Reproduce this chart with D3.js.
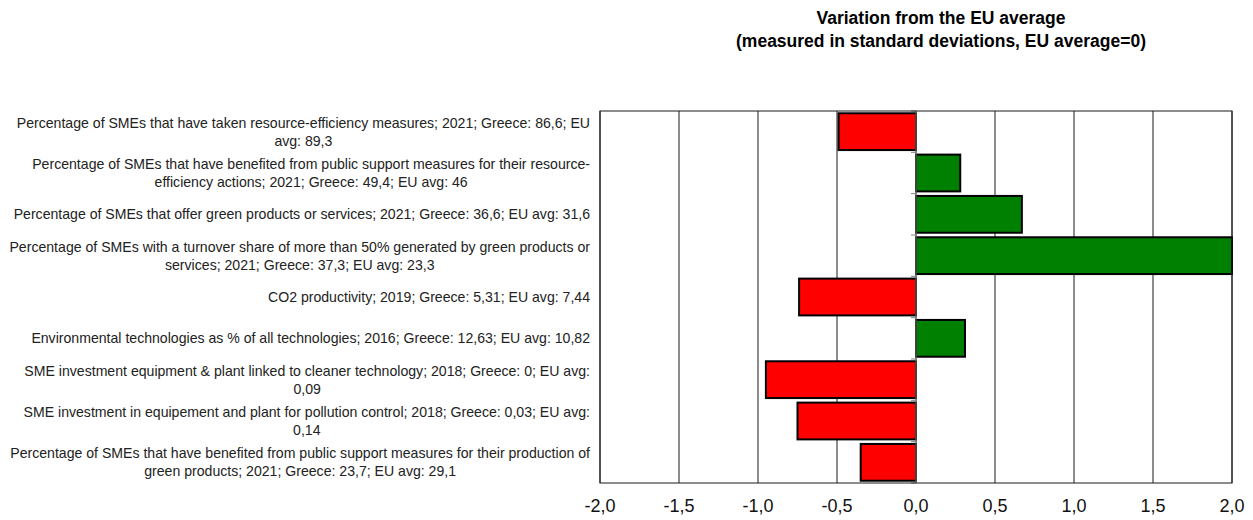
<!DOCTYPE html>
<html>
<head>
<meta charset="utf-8">
<script src="https://cdn.jsdelivr.net/npm/d3@7"></script>
<style>
  body { margin: 0; background: #fff; }
  svg { display: block; font-family: "Liberation Sans", Arial, sans-serif; }
</style>
</head>
<body>
<svg id="chart"></svg>
<script>
// data
const labels = [
  ['Percentage of SMEs that have taken resource-efficiency measures; 2021; Greece: 86,6; EU', 'avg: 89,3'],
  ['Percentage of SMEs that have benefited from public support measures for their resource-', 'efficiency actions; 2021; Greece: 49,4; EU avg: 46'],
  ['Percentage of SMEs that offer green products or services; 2021; Greece: 36,6; EU avg: 31,6'],
  ['Percentage of SMEs with a turnover share of more than 50% generated by green products or', 'services; 2021; Greece: 37,3; EU avg: 23,3'],
  ['CO2 productivity; 2019; Greece: 5,31; EU avg: 7,44'],
  ['Environmental technologies as % of all technologies; 2016; Greece: 12,63; EU avg: 10,82'],
  ['SME investment equipment & plant linked to cleaner technology; 2018; Greece: 0; EU avg:', '0,09'],
  ['SME investment in equipement and plant for pollution control; 2018; Greece: 0,03; EU avg:', '0,14'],
  ['Percentage of SMEs that have benefited from public support measures for their production of', 'green products; 2021; Greece: 23,7; EU avg: 29,1']
];
const values = [-0.49, 0.28, 0.67, 2.0, -0.74, 0.31, -0.95, -0.75, -0.35];
const xTicks = [-2, -1.5, -1, -0.5, 0, 0.5, 1, 1.5, 2];
const titleLines = ['Variation from the EU average', '(measured in standard deviations, EU average=0)'];

// dimensions
const W = 1253, H = 520;
const margin = {top: 111, bottom: 37, left: 600, right: 21};
const width = W - margin.left - margin.right;
const height = H - margin.top - margin.bottom;

const $svg = d3.select('#chart').attr('width', W).attr('height', H);

// scales
const scaleX = d3.scaleLinear().domain([-2, 2]).range([0, width]).clamp(true);
const scaleY = d3.scaleBand()
  .domain(d3.range(labels.length))
  .range([0, height])
  .paddingInner(0.11)
  .paddingOuter(0.055);
const step = scaleY.step();

const $vis = $svg.append('g')
  .attr('transform', 'translate(' + margin.left + ',' + margin.top + ')');

// title
$svg.append('g').selectAll('text')
  .data(titleLines)
  .enter().append('text')
  .attr('x', 941)
  .attr('y', (d, i) => 24 + i * 23)
  .attr('text-anchor', 'middle')
  .style('font-size', '17.5px')
  .style('font-weight', 'bold')
  .style('fill', '#000')
  .text(d => d);

// grid lines
$vis.selectAll('.grid')
  .data(xTicks)
  .enter().append('line')
  .attr('class', 'grid')
  .attr('x1', d => scaleX(d)).attr('x2', d => scaleX(d))
  .attr('y1', 0).attr('y2', height)
  .attr('stroke', '#1a1a1a')
  .attr('stroke-width', 1);

// bars
$vis.selectAll('.bar')
  .data(values)
  .enter().append('rect')
  .attr('class', 'bar')
  .attr('x', d => scaleX(Math.min(0, d)))
  .attr('width', d => Math.abs(scaleX(d) - scaleX(0)))
  .attr('y', (d, i) => scaleY(i))
  .attr('height', scaleY.bandwidth())
  .attr('fill', d => d < 0 ? '#ff0000' : '#008000')
  .attr('stroke', '#000')
  .attr('stroke-width', 2);

// zero axis with small ticks at category boundaries
$vis.append('line')
  .attr('x1', scaleX(0)).attr('x2', scaleX(0))
  .attr('y1', 0).attr('y2', height)
  .attr('stroke', '#808080');
$vis.selectAll('.ytick')
  .data(d3.range(labels.length + 1))
  .enter().append('line')
  .attr('class', 'ytick')
  .attr('x1', scaleX(0) - 5).attr('x2', scaleX(0))
  .attr('y1', d => d * step).attr('y2', d => d * step)
  .attr('stroke', '#808080');

// plot frame
$vis.append('rect')
  .attr('width', width).attr('height', height)
  .attr('fill', 'none')
  .attr('stroke', '#1a1a1a');

// x axis labels
$vis.selectAll('.xlabel')
  .data(xTicks)
  .enter().append('text')
  .attr('class', 'xlabel')
  .attr('x', d => scaleX(d))
  .attr('y', height + 29)
  .attr('text-anchor', 'middle')
  .style('font-size', '18px')
  .style('fill', '#111')
  .text(d => d3.format('.1f')(d).replace('.', ',').replace('−', '-'));

// category labels: lines centred inside a block that is right aligned to the plot
const lineH = 18;
const $labels = $svg.append('g').selectAll('.cat')
  .data(labels)
  .enter().append('g')
  .attr('class', 'cat');

$labels.each(function(lines, i) {
  const g = d3.select(this);
  const cy = margin.top + scaleY(i) + scaleY.bandwidth() / 2;
  const texts = g.selectAll('text')
    .data(lines)
    .enter().append('text')
    .attr('y', (d, j) => cy + (j - (lines.length - 1) / 2) * lineH + 5)
    .attr('text-anchor', 'middle')
    .style('font-size', '14.1px')
    .style('fill', '#222')
    .text(d => d);
  let maxW = 0;
  texts.each(function() { maxW = Math.max(maxW, this.getComputedTextLength()); });
  texts.attr('x', 590 - maxW / 2);
});
</script>
</body>
</html>
